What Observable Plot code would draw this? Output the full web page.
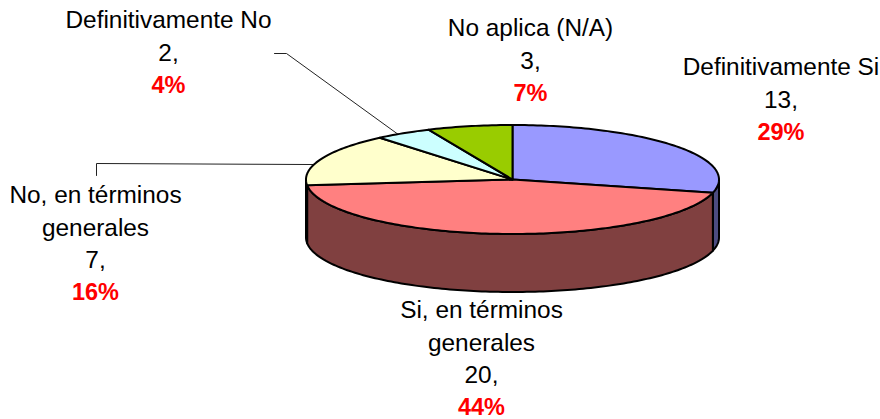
<!DOCTYPE html>
<html><head><meta charset="utf-8">
<script src="https://cdn.jsdelivr.net/npm/d3@7"></script>
<script src="https://cdn.jsdelivr.net/npm/@observablehq/plot@0.6"></script>
<style>html,body{margin:0;padding:0;background:#fff}svg{display:block}</style>
</head><body><div id="chart"></div>
<script>
const categories = ["Definitivamente Si", "Si, en términos generales", "No, en términos generales", "Definitivamente No", "No aplica (N/A)"];
const wrapped = [["Definitivamente Si"], ["Si, en términos", "generales"], ["No, en términos", "generales"], ["Definitivamente No"], ["No aplica (N/A)"]];
const values = [13, 20, 7, 2, 3];
const topColors = ["#9999FF", "#FF8080", "#FFFFCC", "#CCFFFF", "#99CC00"];
const sideColors = ["#4C4C80", "#804040", "#80806A", "#6A8080", "#668000"];

// layout of the page
const cx = 512, cy = 179, rx = 206.5, ry = 54.5, depth = 58;
const labelCenters = [780.5, 481, 95, 168, 530];
const labelTops = [67, 310, 195, 20, 28];
const lineStep = 32.4;

const total = d3.sum(values);
let acc = 0;
const slices = values.map((v, i) => {
  const s = {i, a0: acc / total * 2 * Math.PI, a1: (acc + v) / total * 2 * Math.PI};
  acc += v;
  return s;
});
const px = a => cx + rx * Math.sin(a);
const py = a => cy - ry * Math.cos(a);

function arc(a0, a1, dy, id, fill) {
  const n = Math.max(2, Math.ceil((a1 - a0) / 0.02));
  return d3.range(n + 1).map(k => {
    const a = a0 + (a1 - a0) * k / n;
    return {x: px(a), y: py(a) + dy, id, fill};
  });
}
const sideRows = [], topRows = [];
slices.forEach(s => {
  // the visible wall is the part of the rim on the front half (π/2 … 3π/2)
  const lo = Math.max(s.a0, Math.PI / 2), hi = Math.min(s.a1, 3 * Math.PI / 2);
  if (hi > lo) {
    const id = "side" + s.i;
    const wall = [...arc(lo, hi, 0, id, sideColors[s.i]), ...arc(lo, hi, depth, id, sideColors[s.i]).reverse()];
    sideRows.push(...wall, wall[0]);
  }
  const id = "top" + s.i;
  const c = {x: cx, y: cy, id, fill: topColors[s.i]};
  topRows.push(c, ...arc(s.a0, s.a1, 0, id, topColors[s.i]), c);
});

const textRows = [], pctRows = [];
categories.forEach((c, i) => {
  const lines = [...wrapped[i], values[i] + ","];
  lines.forEach((t, k) => textRows.push({x: labelCenters[i], y: labelTops[i] + k * lineStep, t}));
  pctRows.push({x: labelCenters[i], y: labelTops[i] + lines.length * lineStep, t: Math.round(values[i] / total * 100) + "%"});
});

// leader lines start at their label and end on their slice's rim
const midDefNo = (slices[3].a0 + slices[3].a1) / 2 - 0.03;
const leaderRows = [
  {x: 96, y: 175, id: "a"}, {x: 96, y: 163, id: "a"}, {x: px(5.0), y: py(5.0) + 0.5, id: "a"},
  {x: 274, y: 53, id: "b"}, {x: 286, y: 53, id: "b"}, {x: px(midDefNo), y: py(midDefNo), id: "b"}
];

const fontFamily = "'Liberation Sans', Arial, sans-serif";
const plot = Plot.plot({
  width: 880, height: 419,
  marginTop: 0, marginRight: 0, marginBottom: 0, marginLeft: 0,
  x: {domain: [0, 880], range: [0, 880], axis: null},
  y: {domain: [0, 419], range: [0, 419], axis: null},
  color: {type: "identity"},
  style: {fontFamily, background: "#fff", overflow: "visible"},
  marks: [
    Plot.line(leaderRows, {x: "x", y: "y", z: "id", stroke: "#222", strokeWidth: 1}),
    Plot.line(sideRows, {x: "x", y: "y", z: "id", fill: "fill", stroke: "#000", strokeWidth: 2, strokeLinejoin: "round"}),
    Plot.line(topRows, {x: "x", y: "y", z: "id", fill: "fill", stroke: "#000", strokeWidth: 2, strokeLinejoin: "round"}),
    Plot.text(textRows, {x: "x", y: "y", text: "t", fontSize: 24.4, fill: "#000", textAnchor: "middle", lineAnchor: "middle", fontFamily}),
    Plot.text(pctRows, {x: "x", y: "y", text: "t", fontSize: 23.5, fontWeight: "bold", fill: "#FF0000", textAnchor: "middle", lineAnchor: "middle", fontFamily})
  ]
});
document.getElementById("chart").append(plot);
</script>
</body></html>
